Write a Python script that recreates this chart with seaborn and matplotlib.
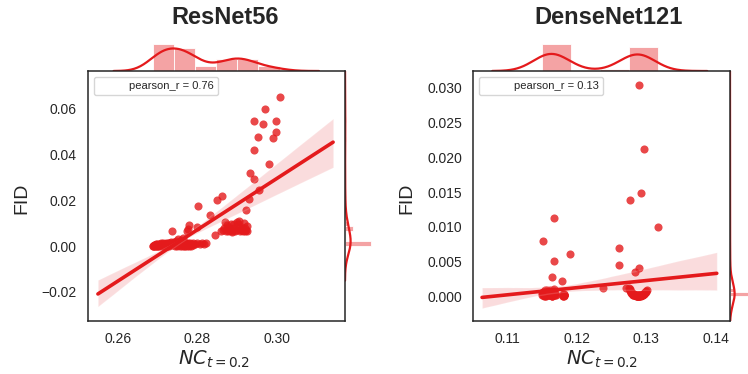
import matplotlib
matplotlib.use("Agg")
import matplotlib.pyplot as plt
import seaborn as sns
from matplotlib.lines import Line2D

# ---------------- data ----------------
titles = ["ResNet56", "DenseNet121"]
pearson_labels = ["pearson_r = 0.76", "pearson_r = 0.13"]

resnet_nc = [
    # upper / middle points
    0.3007, 0.2971, 0.2943, 0.2965, 0.2997, 0.2953, 0.2997, 0.2990, 0.2943, 0.2981,
    0.2933, 0.2943, 0.2956, 0.2930, 0.2923, 0.2862, 0.2849, 0.2832, 0.2801, 0.2778,
    0.2736, 0.2773, 0.2798, 0.2844, 0.2763, 0.2775,
    # cluster around FID 0.006-0.011
    0.2870, 0.2875, 0.2868, 0.2872, 0.2880, 0.2888, 0.2895, 0.2900, 0.2898, 0.2884,
    0.2878, 0.2865, 0.2882, 0.2890, 0.2860, 0.2893, 0.2886, 0.2876,
    0.2905, 0.2903, 0.2907, 0.2910, 0.2915, 0.2920, 0.2923, 0.2918, 0.2912,
    0.2925, 0.2913, 0.2906, 0.2919, 0.2926,
    # dense band near FID 0
    0.2688, 0.2689, 0.2690, 0.2691, 0.2692, 0.2693, 0.2694, 0.2695, 0.2696, 0.2697,
    0.2698, 0.2699, 0.2700, 0.2702, 0.2703, 0.2704, 0.2705, 0.2706, 0.2708, 0.2709,
    0.2710, 0.2711, 0.2712, 0.2714, 0.2715, 0.2716, 0.2717, 0.2718, 0.2720, 0.2721,
    0.2722, 0.2723, 0.2724, 0.2726, 0.2727, 0.2728, 0.2729, 0.2730, 0.2732, 0.2733,
    0.2734, 0.2736, 0.2738, 0.2740,
    0.2742, 0.2743, 0.2745, 0.2746, 0.2747, 0.2749, 0.2750, 0.2752, 0.2753, 0.2754,
    0.2756, 0.2757, 0.2758, 0.2760, 0.2761, 0.2762, 0.2764, 0.2765, 0.2766, 0.2768,
    0.2769, 0.2770, 0.2772, 0.2773, 0.2775, 0.2776, 0.2777, 0.2779, 0.2780, 0.2782,
    0.2784, 0.2786, 0.2788, 0.2790, 0.2793,
    0.2800, 0.2806, 0.2811, 0.2816, 0.2822,
]
resnet_fid = [
    0.0654, 0.0600, 0.0549, 0.0536, 0.0549, 0.0477, 0.0498, 0.0475, 0.0421, 0.0360,
    0.0322, 0.0294, 0.0247, 0.0208, 0.0157, 0.0218, 0.0200, 0.0138, 0.0177, 0.0093,
    0.0068, 0.0065, 0.0083, 0.0047, 0.0037, 0.0076,
    0.0105, 0.0092, 0.0078, 0.0066, 0.0070, 0.0068, 0.0066, 0.0105, 0.0072, 0.0098,
    0.0066, 0.0073, 0.0073, 0.0080, 0.0068, 0.0095, 0.0064, 0.0085,
    0.0110, 0.0095, 0.0080, 0.0070, 0.0066, 0.0066, 0.0072, 0.0100, 0.0085,
    0.0068, 0.0072, 0.0066, 0.0078, 0.0090,
    0.0003, 0.0000, 0.0005, 0.0002, 0.0007, 0.0001, 0.0004, 0.0009, 0.0002, 0.0006,
    0.0000, 0.0008, 0.0003, 0.0011, 0.0005, 0.0001, 0.0009, 0.0004, 0.0012, 0.0002,
    0.0007, 0.0010, 0.0003, 0.0013, 0.0006, 0.0001, 0.0011, 0.0008, 0.0004, 0.0015,
    0.0002, 0.0010, 0.0006, 0.0013, 0.0003, 0.0009, 0.0016, 0.0005, 0.0012, 0.0008,
    0.0018, 0.0004, 0.0014, 0.0020,
    0.0010, 0.0003, 0.0016, 0.0006, 0.0022, 0.0001, 0.0012, 0.0030, 0.0005, 0.0018,
    0.0002, 0.0009, 0.0025, 0.0004, 0.0014, 0.0000, 0.0008, 0.0020, 0.0003, 0.0011,
    0.0001, 0.0006, 0.0015, 0.0002, 0.0009, 0.0004, 0.0012, 0.0001, 0.0007, 0.0013,
    0.0003, 0.0010, 0.0005, 0.0014, 0.0008,
    0.0012, 0.0008, 0.0015, 0.0010, 0.0013,
]

densenet_nc = [
    # left group, visible points
    0.1167, 0.1152, 0.1190, 0.1167, 0.1165, 0.1179,
    # left group, dense cluster near FID 0
    0.1150, 0.1151, 0.1152, 0.1153, 0.1154, 0.1155, 0.1156, 0.1157, 0.1158, 0.1159,
    0.1160, 0.1161, 0.1162, 0.1163, 0.1164, 0.1165, 0.1166, 0.1167, 0.1168, 0.1169,
    0.1150, 0.1152, 0.1154, 0.1156, 0.1158, 0.1160, 0.1162, 0.1164, 0.1166, 0.1168,
    0.1151, 0.1153, 0.1155, 0.1157, 0.1159, 0.1161, 0.1163, 0.1165, 0.1167, 0.1169,
    0.1155, 0.1158, 0.1161, 0.1164, 0.1167, 0.1170,
    0.1180, 0.1181, 0.1182, 0.1180, 0.1181, 0.1182, 0.1181, 0.1180, 0.1182, 0.1181,
    # middle
    0.1238, 0.1260, 0.1261, 0.1270,
    # right group, visible points
    0.1289, 0.1296, 0.1292, 0.1276, 0.1316, 0.1290, 0.1284,
    # right group, arc near FID 0
    0.1275, 0.1276, 0.1277, 0.1278, 0.1279, 0.1280, 0.1281, 0.1282, 0.1283, 0.1284,
    0.1285, 0.1286, 0.1287, 0.1288, 0.1289, 0.1290, 0.1291, 0.1292, 0.1293, 0.1294,
    0.1295, 0.1296, 0.1297, 0.1298, 0.1299, 0.1300, 0.1301,
    0.1276, 0.1278, 0.1280, 0.1282, 0.1284, 0.1286, 0.1288, 0.1290, 0.1292, 0.1294,
    0.1296, 0.1298,
    0.1281, 0.1285, 0.1287, 0.1289, 0.1291, 0.1293, 0.1287, 0.1289, 0.1290, 0.1288,
]
densenet_fid = [
    0.0113, 0.0080, 0.0061, 0.0050, 0.0028, 0.0021,
    0.0004, 0.0002, 0.0006, 0.0001, 0.0003, 0.0008, 0.0000, 0.0005, 0.0002, 0.0007,
    0.0003, 0.0001, 0.0009, 0.0004, 0.0000, 0.0006, 0.0002, 0.0010, 0.0003, 0.0005,
    0.0001, 0.0005, 0.0000, 0.0003, 0.0007, 0.0002, 0.0004, 0.0001, 0.0008, 0.0002,
    0.0006, 0.0000, 0.0002, 0.0009, 0.0004, 0.0001, 0.0003, 0.0000, 0.0005, 0.0001,
    0.0002, 0.0004, 0.0006, 0.0000, 0.0003, 0.0002,
    0.0000, 0.0002, 0.0001, 0.0003, 0.0000, 0.0001, 0.0002, 0.0000, 0.0003, 0.0001,
    0.0012, 0.0069, 0.0045, 0.0012,
    0.0304, 0.0212, 0.0148, 0.0138, 0.0099, 0.0040, 0.0034,
    0.0012, 0.0009, 0.0007, 0.0005, 0.0004, 0.0003, 0.0002, 0.0002, 0.0001, 0.0001,
    0.0000, 0.0000, 0.0000, 0.0000, 0.0000, 0.0000, 0.0001, 0.0001, 0.0001, 0.0002,
    0.0002, 0.0003, 0.0004, 0.0005, 0.0006, 0.0007, 0.0009,
    0.0010, 0.0006, 0.0004, 0.0003, 0.0002, 0.0001, 0.0000, 0.0001, 0.0000, 0.0002,
    0.0003, 0.0006,
    0.0002, 0.0001, 0.0000, 0.0001, 0.0000, 0.0001, 0.0002, 0.0000, 0.0001, 0.0000,
]

x_ticks = [[0.26, 0.28, 0.30], [0.11, 0.12, 0.13, 0.14]]
x_tick_labels = [["0.26", "0.28", "0.30"], ["0.11", "0.12", "0.13", "0.14"]]
y_ticks = [[-0.02, 0.00, 0.02, 0.04, 0.06],
           [0.000, 0.005, 0.010, 0.015, 0.020, 0.025, 0.030]]
y_tick_labels = [["\u22120.02", "0.00", "0.02", "0.04", "0.06"],
                 ["0.000", "0.005", "0.010", "0.015", "0.020", "0.025", "0.030"]]

# ---------------- layout (pixels of a 748x374 canvas) ----------------
W, H = 748, 374
main_boxes = [(88, 71, 345, 321), (473, 71, 730, 321)]   # left, top, right, bottom
marg_size = 28
xlims = [(0.2524, 0.3172), (0.1051, 0.1420)]
ylims = [(-0.0327, 0.0766), (-0.0036, 0.03245)]
line_spans = [(0.2549, 0.3142), (0.1064, 0.1401)]
title_x = [225, 609]
x_bins = [6, 4]
y_bins = [30, 50]

RED = "#e41a1c"

sns.set_style("white")
plt.rcParams["font.family"] = ["Liberation Sans", "DejaVu Sans"]
plt.rcParams["mathtext.fontset"] = "dejavusans"

fig = plt.figure(figsize=(W / 100, H / 100), dpi=100)

datasets = [(resnet_nc, resnet_fid), (densenet_nc, densenet_fid)]

for i, (xs, ys) in enumerate(datasets):
    l, t, r, b = main_boxes[i]
    ax = fig.add_axes([l / W, 1 - b / H, (r - l) / W, (b - t) / H])
    ax_top = fig.add_axes([l / W, 1 - t / H, (r - l) / W, marg_size / H], sharex=ax)
    ax_right = fig.add_axes([r / W, 1 - b / H, (marg_size - 1) / W, (b - t) / H], sharey=ax)
    ax.set_zorder(3)

    ax.set_xlim(*line_spans[i])
    sns.regplot(x=xs, y=ys, ax=ax, color=RED, truncate=False, seed=0,
                scatter_kws={"s": 34, "alpha": 0.8, "linewidths": 0},
                line_kws={"lw": 2.6})

    sns.histplot(x=xs, ax=ax_top, bins=x_bins[i], stat="density", color=RED,
                 alpha=0.4, edgecolor="white", linewidth=0.6)
    sns.kdeplot(x=xs, ax=ax_top, color=RED, lw=1.6)
    sns.histplot(y=ys, ax=ax_right, bins=y_bins[i], stat="density", color=RED,
                 alpha=0.4, edgecolor="white", linewidth=0.6)
    sns.kdeplot(y=ys, ax=ax_right, color=RED, lw=1.6)
    ax_top.axis("off")
    ax_right.axis("off")
    ax_top.set_ylim(bottom=0)
    ax_right.set_xlim(left=0)

    ax.set_xlim(*xlims[i])
    ax.set_ylim(*ylims[i])
    ax.set_xticks(x_ticks[i])
    ax.set_xticklabels(x_tick_labels[i])
    ax.set_yticks(y_ticks[i])
    ax.set_yticklabels(y_tick_labels[i])
    ax.tick_params(labelsize=10, pad=8, colors=".15", length=0)
    for s in ax.spines.values():
        s.set_visible(True)
        s.set_color(".15")
        s.set_linewidth(1.1)

    ax.set_ylabel("FID", fontsize=14, color=".15")
    ax.yaxis.set_label_coords(-0.226, 0.49)
    ax.set_xlabel(r"$NC_{t=0.2}$", fontsize=14, color=".15")
    ax.xaxis.set_label_coords(0.49 if i == 0 else 0.5, -0.11)

    h = Line2D([], [], lw=0)
    leg = ax.legend([h], [pearson_labels[i]], loc="upper left", fontsize=8,
                    frameon=True, handlelength=2.0)
    leg.get_frame().set_edgecolor(".8")

    fig.text(title_x[i] / W, 1 - 17 / H, titles[i], ha="center", va="center",
             fontsize=17, fontweight="bold", color=".15")

fig.savefig("out.png", dpi=100)
